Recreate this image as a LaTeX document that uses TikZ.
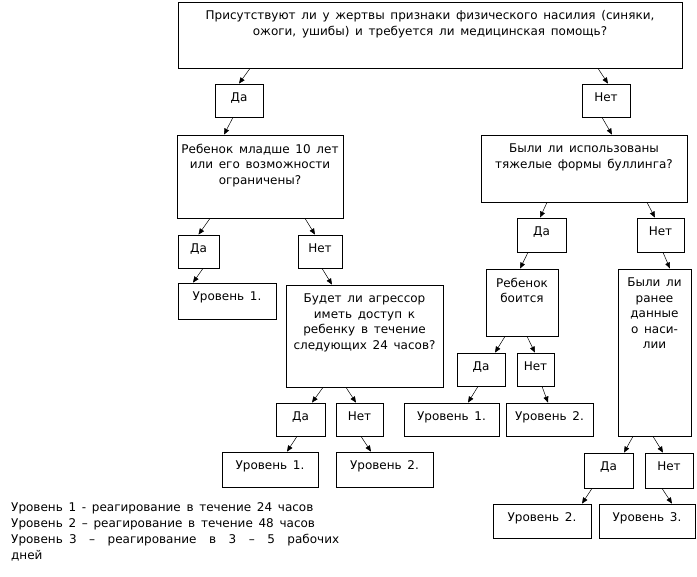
\documentclass[tikz,border=0pt]{standalone}
\usepackage{fontspec}
\setmainfont{DejaVu Sans}[WordSpace=1.5]
\usetikzlibrary{arrows.meta,fit,calc}
\tikzset{
  box/.style={draw, line width=0.8pt, inner sep=0pt},
  txt/.style={font=\fontsize{12pt}{15.5pt}\selectfont, align=center, inner sep=0pt},
  arr/.style={line width=0.5pt, -{Triangle[length=6pt,width=5pt]}}
}
\newcommand\qbox[6]{%
  \node[box, fit={(#2,#3)(#4,#5)}, label={[txt, anchor=north, yshift=-9pt]north:{#6}}] (#1) {};}
\newcommand\arr[4]{\draw[arr] ([xshift=#2pt]#1.south) -- ([xshift=#4pt]#3.north);}
\begin{document}
\begin{tikzpicture}[x=1pt,y=-1pt]
\useasboundingbox (0,0) rectangle (697,577);
\qbox{q1}{178}{2}{682}{68}{Присутствуют ли у жертвы признаки физического насилия (синяки,\\ожоги, ушибы) и требуется ли медицинская помощь?}
\qbox{y1}{215}{84}{263}{117}{Да}
\qbox{n1}{582}{84}{630}{117}{Нет}
\qbox{q2}{177}{135}{343}{218}{Ребенок младше 10 лет\\или его возможности\\ограничены?}
\qbox{q3}{481}{135}{687}{202}{Были ли использованы\\тяжелые формы буллинга?}
\qbox{y2}{178}{235}{219}{268}{Да}
\qbox{n2}{298}{235}{342}{268}{Нет}
\qbox{l1}{178}{283}{276}{319}{Уровень 1.}
\qbox{q4}{286}{285}{443}{387}{Будет ли агрессор\\иметь доступ к\\ребенку в течение\\следующих 24 часов?}
\qbox{y4}{517}{218}{566}{252}{Да}
\qbox{n4}{637}{218}{684}{252}{Нет}
\qbox{q5}{486}{269}{558}{336}{Ребенок\\боится}
\qbox{q6}{618}{269}{691}{436}{Были ли\\ранее\\данные\\о наси-\\лии}
\qbox{y5}{457}{353}{505}{386}{Да}
\qbox{n5}{517}{353}{554}{386}{Нет}
\qbox{l2}{404}{403}{499}{436}{Уровень 1.}
\qbox{l3}{506}{403}{593}{436}{Уровень 2.}
\qbox{y3}{276}{403}{325}{436}{Да}
\qbox{n3}{336}{403}{383}{436}{Нет}
\qbox{l4}{222}{452}{318}{487}{Уровень 1.}
\qbox{l5}{336}{452}{433}{487}{Уровень 2.}
\qbox{y6}{584}{453}{633}{488}{Да}
\qbox{n6}{645}{453}{693}{488}{Нет}
\qbox{l6}{493}{504}{591}{538}{Уровень 2.}
\qbox{l7}{599}{504}{695}{538}{Уровень 3.}
\arr{q1}{-180}{y1}{0}
\arr{q1}{168}{n1}{2}
\arr{y1}{-6}{q2}{-36}
\arr{n1}{-4}{q3}{28}
\arr{q2}{-50}{y2}{0}
\arr{q2}{45}{n2}{-5}
\arr{y2}{4.5}{l1}{-34}
\arr{n2}{2}{q4}{-32.5}
\arr{q4}{-41.5}{y3}{11.5}
\arr{q4}{-18.5}{n3}{-3.5}
\arr{y3}{-3.5}{l4}{17}
\arr{n3}{1.5}{l5}{-13.5}
\arr{q3}{-37}{y4}{-1.5}
\arr{q3}{63}{n4}{-5.5}
\arr{y4}{-13.5}{q5}{-2}
\arr{n4}{2.5}{q6}{15.5}
\arr{q5}{-17}{y5}{14}
\arr{q5}{5}{n5}{-0.5}
\arr{y5}{-3}{l2}{16.5}
\arr{n5}{6.5}{l3}{-1.5}
\arr{q6}{-21.5}{y6}{15.5}
\arr{q6}{-1.5}{n6}{-6}
\arr{y6}{-16.5}{l6}{40}
\arr{n6}{-7}{l7}{25}
\node[txt, font=\fontsize{12pt}{16pt}\selectfont, align=left, anchor=north west] (leg) at (11,502) {Уровень 1 - реагирование в течение 24 часов\\Уровень 2 – реагирование в течение 48 часов\\\makebox[328pt][s]{Уровень 3 \ – \ реагирование \ в \ 3 \ – \ 5 \ рабочих}\\дней};
\end{tikzpicture}
\end{document}
